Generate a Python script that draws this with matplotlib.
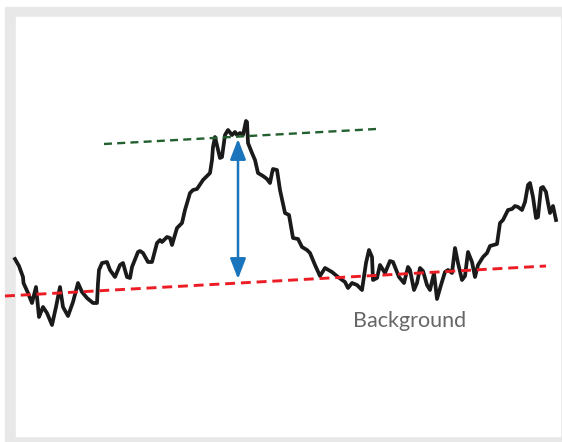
import matplotlib.pyplot as plt
from matplotlib.patches import Rectangle, FancyArrowPatch

# spectrum trace (channel, counts)
channel = [15, 19, 23, 23.5, 28, 32, 36, 39, 43, 47, 52, 56, 60, 63, 68, 73, 78, 82, 87, 93,
           97, 98, 99, 102, 107, 110, 115, 120, 123, 127, 130, 132, 138, 140, 143, 148, 152,
           157, 160, 162, 167, 170, 172, 175, 177, 182, 185, 190, 193, 197, 203, 210, 212,
           213, 215, 220, 222, 225, 228, 232, 235, 237, 240, 243, 246, 247, 248, 252, 255,
           258, 263, 267, 270, 272, 273, 277, 280, 285, 289, 293, 298, 302, 307, 310, 315,
           320, 325, 332, 338, 345, 348, 352, 357, 362, 366, 369, 372, 373, 377, 380, 385,
           390, 393, 399, 404, 408, 410, 414, 417, 420, 423, 427, 430, 434, 437, 441, 445,
           448, 452, 455, 458, 462, 465, 468, 472, 475, 478, 483, 487, 490, 497, 500, 503,
           508, 512, 515, 518, 522, 525, 528, 530, 533, 536, 538, 541, 543, 546, 548, 550,
           553, 556]
counts = [183, 176, 165, 159, 149, 139, 155, 125, 135, 129, 117, 135, 155, 135, 126, 140, 159,
          150, 144, 139, 139, 159, 172, 179, 180, 172, 165, 177, 179, 165, 164, 175, 190, 191,
          189, 180, 180, 199, 202, 200, 205, 204, 197, 207, 214, 219, 232, 249, 252, 253, 262,
          269, 282, 295, 305, 284, 285, 307, 312, 307, 310, 307, 309, 307, 321, 320, 299, 289,
          282, 269, 266, 263, 259, 269, 273, 272, 252, 229, 227, 204, 203, 195, 192, 189, 177,
          166, 174, 170, 165, 160, 154, 159, 157, 152, 179, 192, 185, 162, 164, 177, 169, 181,
          180, 165, 159, 175, 172, 152, 159, 174, 171, 157, 152, 169, 143, 157, 170, 172, 169,
          194, 179, 162, 166, 190, 180, 165, 177, 185, 189, 196, 198, 219, 222, 232, 233, 236,
          235, 232, 240, 257, 259, 245, 224, 225, 254, 255, 250, 239, 229, 236, 222]

peak_x = [104, 376]
peak_y = [298, 313]
bg_x = [5, 546]
bg_y = [146, 176]
arrow_x = 238
arrow_top = 303
arrow_bottom = 163

fig = plt.figure(figsize=(5.62, 4.42), dpi=100)
ax = fig.add_axes([0, 0, 1, 1])
ax.set_xlim(0, 562)
ax.set_ylim(0, 442)
ax.axis('off')

# gray frame with white panel
ax.add_patch(Rectangle((5 / 562, 0), 1, 1 - 7 / 442, transform=ax.transAxes,
                       color='#e8e8e8', zorder=0))
ax.add_patch(Rectangle((16 / 562, 6 / 442), 544 / 562, 419 / 442, transform=ax.transAxes,
                       color='white', zorder=0.5))

ax.plot(channel, counts, color='#1a1a1a', lw=2.7, solid_joinstyle='round', zorder=3)
ax.plot(peak_x, peak_y, color='#23602f', lw=1.7, dashes=(3.4, 2.2), zorder=4)
ax.plot(bg_x, bg_y, color='#ed1c24', lw=2.1, dashes=(3.4, 2.0), zorder=4)

arr = FancyArrowPatch((arrow_x, arrow_bottom), (arrow_x, arrow_top),
                      arrowstyle='<|-|>,head_length=0.62,head_width=0.24',
                      mutation_scale=20, color='#1b75bc', lw=1.8,
                      shrinkA=0, shrinkB=0, zorder=5)
ax.add_patch(arr)

ax.text(410, 121, 'Background', ha='center', va='center', fontsize=15.5,
        family='Lato', color='#666666', zorder=5)

fig.savefig('out.png', dpi=100)
